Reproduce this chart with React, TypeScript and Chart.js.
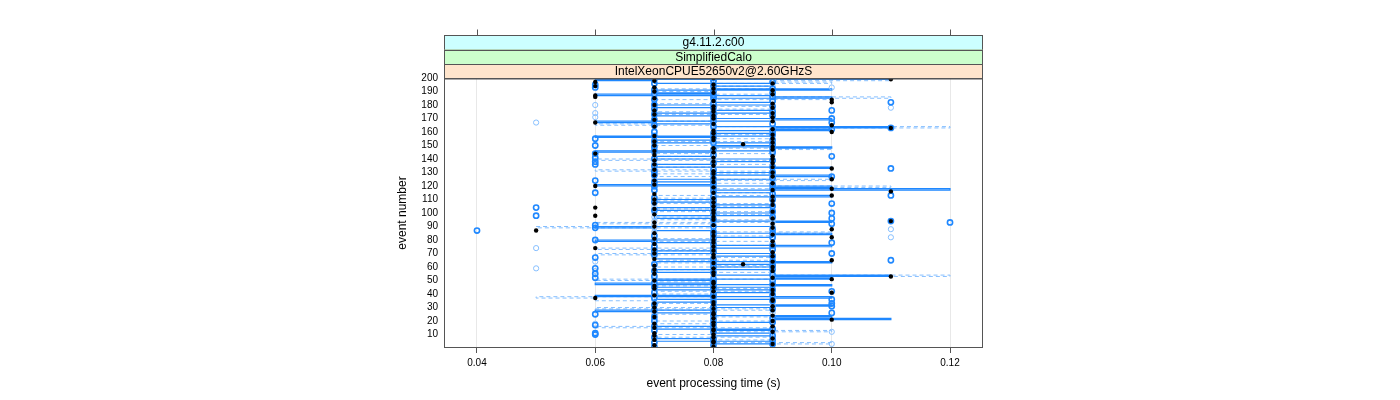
import React, { useEffect, useRef } from "react";
import { Chart, registerables } from "chart.js";

Chart.register(...registerables);

// event numbers (y categories)
const EVENT_COUNT = 200;
const EVENT_NUMBERS = Array.from({ length: EVENT_COUNT }, (_, i) => i + 1);

// event processing times, in hundredths of a second, event 1..200
const REF_TIME_CS = [
  8, 7, 9, 8, 8, 7, 9, 8, 7, 8,
  7, 9, 8, 8, 7, 9, 8, 7, 8, 9,
  10, 8, 7, 9, 8, 8, 7, 9, 8, 7,
  9, 8, 7, 8, 9, 9, 6, 8, 7, 9,
  10, 8, 9, 7, 8, 7, 9, 8, 8, 7,
  10, 9, 11, 8, 7, 8, 9, 7, 8, 9,
  7, 8.5, 8, 9, 10, 7, 8, 9, 8, 7,
  9, 8, 7, 6, 8, 9, 7, 8, 9, 8,
  7, 10, 8, 9, 7, 8, 5, 10, 9, 7,
  8, 9, 7, 11, 8, 9, 8, 6, 7, 8,
  9, 8, 7, 6, 8, 9, 7, 8, 9, 7,
  8, 9, 10, 7, 8, 11, 9, 10, 8, 6,
  7, 9, 8, 7, 10, 8, 9, 7, 8, 9,
  8, 7, 10, 9, 8, 7, 9, 8, 7, 9,
  8, 9, 7, 6, 8, 7, 9, 8, 9, 7,
  8.5, 9, 7, 8, 9, 8, 7, 9, 8, 10,
  8, 9, 11, 7, 10, 8, 6, 9, 7, 8,
  9, 8, 7, 9, 8, 7, 8, 9, 8, 7,
  9, 10, 8, 10, 7, 6, 6, 9, 8, 7,
  9, 8, 7, 6, 8, 9, 6, 7, 11, 8,
];

const RUN_A_CS = [
  7, 8, 9, 7, 8, 9, 8, 7, 9, 6,
  6, 8, 7, 9, 8, 7, 6, 8, 9, 7,
  8, 9, 7, 8, 6, 10, 8, 7, 9, 8,
  10, 7, 10, 8, 9, 10, 7, 8, 9, 8,
  7, 10, 9, 8, 7, 8, 9, 7, 8, 9,
  8, 6, 7, 9, 6, 8, 7, 9, 6, 8,
  9, 7, 8, 9, 11, 8, 6, 9, 7, 10,
  8, 7, 9, 8, 7, 9, 8, 10, 7, 6,
  8, 9, 7, 8, 9, 8, 4, 9, 6, 8,
  6, 10, 12, 11, 8, 10, 9, 5, 8, 10,
  9, 7, 8, 5, 9, 8, 10, 7, 8, 9,
  7, 8, 11, 9, 6, 8, 7, 9, 8, 7,
  9, 8, 7, 6, 8, 9, 10, 7, 8, 9,
  7, 8, 11, 9, 7, 6, 8, 6, 9, 7,
  6, 10, 8, 6, 9, 7, 8, 9, 7, 6,
  9, 8, 7, 9, 6, 8, 7, 9, 8, 7,
  9, 10, 11, 8, 7, 9, 10, 8, 7, 10,
  8, 9, 7, 8, 9, 10, 7, 8, 9, 7,
  8, 11, 9, 7, 8, 9, 8, 7, 9, 8,
  7, 9, 6, 8, 6, 7, 9, 8, 7, 8,
];

const RUN_B_CS = [
  8, 9, 10, 7, 8, 9, 7, 8, 9, 8,
  9, 10, 8, 7, 9, 8, 7, 6, 8, 9,
  7, 8, 9, 8, 7, 9, 8, 9, 7, 8,
  8, 9, 7, 9, 8, 7, 9, 8, 7, 9,
  9, 7, 8, 9, 8, 7, 8, 9, 7, 8,
  7, 9, 8, 7, 9, 8, 6, 7, 5, 9,
  8, 9, 7, 6, 8, 9, 7, 8, 9, 7,
  7, 8, 9, 5, 9, 7, 8, 9, 8, 7,
  9, 11, 8, 7, 9, 7, 8, 11, 7, 9,
  7, 8, 9, 7, 9, 8, 7, 8, 9, 7,
  8, 9, 7, 8, 7, 9, 8, 7, 9, 8,
  9, 7, 8, 8, 9, 7, 8, 9, 7, 8,
  8, 7, 9, 8, 7, 8, 9, 7, 8, 7,
  9, 8, 7, 8, 9, 8, 7, 9, 8, 6,
  7, 8, 9, 7, 8, 9, 7, 8, 7, 9,
  7, 9, 8, 7, 9, 7, 8, 8, 9, 8,
  7, 8, 9, 7, 8, 7, 5, 8, 9, 7,
  6, 8, 9, 6, 7, 8, 9, 11, 8, 6,
  7, 8, 9, 8, 7, 9, 8, 9, 7, 8,
  8, 7, 10, 9, 8, 7, 9, 8, 9, 7,
];

// step lines: event where the level changes, and new level (hundredths of a second)
const SOLID_STEP_EVENT = [
  1, 3, 5, 7, 9, 11, 13, 14, 16, 19, 21, 22, 23, 24, 26, 27, 28, 30, 31, 32,
  34, 36, 37, 38, 39, 41, 43, 45, 46, 47, 48, 50, 51, 52, 53, 54, 56, 58, 60, 62,
  63, 64, 66, 68, 70, 72, 74, 75, 76, 78, 79, 80, 82, 84, 85, 87, 89, 90, 93, 94,
  96, 98, 100, 102, 104, 106, 108, 110, 112, 113, 115, 117, 118, 119, 120, 121, 123, 125, 127, 128,
  130, 133, 134, 136, 138, 140, 142, 145, 146, 148, 149, 150, 152, 154, 156, 157, 159, 161, 162, 163,
  164, 166, 167, 168, 169, 170, 172, 174, 176, 178, 180, 182, 185, 186, 187, 188, 189, 191, 192, 194,
  196, 198, 199, 200,
];
const SOLID_STEP_CS = [
  8, 9, 7, 8, 9, 8, 9, 7, 8, 9, 11, 9, 10, 8, 7, 6, 8, 9, 10, 8,
  7, 9, 10, 6, 8, 9, 7, 9, 10, 6, 8, 7, 10, 9, 11, 8, 7, 9, 8, 9,
  10, 7, 8, 9, 7, 8, 9, 10, 8, 7, 6, 8, 9, 10, 8, 7, 6, 9, 10, 8,
  7, 9, 8, 7, 9, 8, 7, 8, 10, 9, 8, 12, 9, 10, 6, 8, 7, 9, 10, 8,
  9, 10, 7, 8, 9, 7, 8, 6, 9, 10, 8, 9, 7, 8, 6, 9, 8, 10, 9, 11,
  8, 7, 6, 9, 10, 8, 7, 9, 8, 7, 9, 8, 10, 9, 6, 8, 7, 10, 8, 9,
  7, 6, 11, 10,
];

const DASHED_STEP_EVENT = [
  1, 3, 4, 6, 8, 10, 12, 13, 15, 16, 18, 20, 23, 25, 28, 29, 30, 33, 35, 37,
  38, 40, 42, 44, 46, 49, 50, 51, 53, 54, 56, 58, 60, 61, 63, 65, 67, 69, 70, 72,
  73, 74, 76, 79, 81, 83, 85, 86, 89, 90, 92, 93, 95, 97, 99, 101, 103, 105, 107, 109,
  111, 113, 115, 118, 119, 120, 122, 124, 125, 127, 129, 131, 132, 134, 136, 139, 140, 142, 144, 147,
  148, 150, 153, 155, 158, 160, 163, 164, 165, 166, 168, 170, 173, 175, 177, 179, 181, 184, 185, 186,
  188, 190, 192, 194, 196, 197, 198, 199, 200,
];
const DASHED_STEP_CS = [
  9, 10, 8, 9, 7, 8, 10, 9, 6, 8, 7, 9, 8, 7, 9, 6, 8, 7, 6, 5,
  8, 7, 9, 8, 7, 8, 6, 9, 12, 9, 8, 7, 9, 8, 7, 9, 8, 6, 7, 8,
  6, 8, 9, 7, 8, 9, 10, 8, 5, 8, 6, 9, 7, 8, 9, 7, 8, 9, 7, 8,
  7, 9, 8, 10, 11, 9, 8, 10, 8, 7, 9, 6, 8, 7, 9, 6, 8, 7, 9, 10,
  8, 7, 9, 8, 9, 9, 12, 8, 6, 7, 8, 9, 7, 8, 9, 8, 7, 10, 11, 9,
  8, 7, 9, 8, 10, 9, 11, 8, 9,
];

const X_TICKS = [0.04, 0.06, 0.08, 0.1, 0.12];
const Y_TICKS = [10, 20, 30, 40, 50, 60, 70, 80, 90, 100, 110, 120, 130, 140, 150, 160, 170, 180, 190, 200];
const STRIP_LABELS = ["g4.11.2.c00", "SimplifiedCalo", "IntelXeonCPUE52650v2@2.60GHzS"];
const STRIP_COLORS = ["#ccffff", "#ccffcc", "#ffe5cc"];

const FONT = "'Liberation Sans', Arial, Helvetica, sans-serif";
const BLUE = "#1f88ff";
const LIGHT_BLUE = "#86bfff";
const FRAME = "#555555";

const stripPlugin = {
  id: "latticeStrips",
  afterDraw(chart: any) {
    const { ctx, chartArea } = chart;
    const xs = chart.scales.x;
    const left = Math.round(chartArea.left) + 0.5;
    const right = Math.round(chartArea.right) - 0.5;
    const top = Math.round(chartArea.top) + 0.5;
    const bottom = Math.round(chartArea.bottom) - 0.5;
    const h = 14.5;
    ctx.save();
    for (let k = 0; k < STRIP_LABELS.length; k++) {
      const y0 = top - (STRIP_LABELS.length - k) * h;
      ctx.fillStyle = STRIP_COLORS[k];
      ctx.fillRect(left, y0, right - left, h);
      ctx.strokeStyle = FRAME;
      ctx.lineWidth = 1;
      ctx.strokeRect(left, Math.round(y0) + 0.5, right - left, h);
      ctx.fillStyle = "#000";
      ctx.font = `12px ${FONT}`;
      ctx.textAlign = "center";
      ctx.textBaseline = "middle";
      ctx.fillText(STRIP_LABELS[k], (left + right) / 2, y0 + h / 2 + 0.5);
    }
    const stripTop = Math.round(top - STRIP_LABELS.length * h) + 0.5;
    ctx.strokeStyle = FRAME;
    ctx.beginPath();
    for (const v of X_TICKS) {
      const px = Math.round(xs.getPixelForValue(v)) + 0.5;
      ctx.moveTo(px, stripTop);
      ctx.lineTo(px, stripTop - 6);
    }
    ctx.stroke();
    ctx.strokeRect(left, top, right - left, bottom - top);
    ctx.restore();
  },
};

export default function App() {
  const canvasRef = useRef<HTMLCanvasElement | null>(null);

  useEffect(() => {
    document.body.style.margin = "0";
    const canvas = canvasRef.current;
    if (!canvas) return;

    const pts = (arr: number[]) => EVENT_NUMBERS.map((e, i) => ({ x: arr[i] / 100, y: e }));
    const steps = (evs: number[], cs: number[]) => evs.map((e, i) => ({ x: cs[i] / 100, y: e }));

    const chart = new Chart(canvas, {
      type: "scatter",
      data: {
        datasets: [
          {
            label: "ref",
            data: pts(REF_TIME_CS),
            pointRadius: 2.2,
            pointBackgroundColor: "#000",
            pointBorderWidth: 0,
            pointBorderColor: "#000",
            showLine: false,
            order: 1,
          } as any,
          {
            label: "runA",
            data: pts(RUN_A_CS),
            pointRadius: 2.6,
            pointBackgroundColor: "rgba(0,0,0,0)",
            pointBorderColor: BLUE,
            pointBorderWidth: 1.6,
            showLine: false,
            order: 2,
          },
          {
            label: "runB",
            data: pts(RUN_B_CS),
            pointRadius: 2.6,
            pointBackgroundColor: "rgba(0,0,0,0)",
            pointBorderColor: LIGHT_BLUE,
            pointBorderWidth: 1,
            showLine: false,
            order: 3,
          },
          {
            label: "solid",
            type: "line",
            data: steps(SOLID_STEP_EVENT, SOLID_STEP_CS),
            stepped: "after",
            borderColor: BLUE,
            borderWidth: 1.2,
            pointRadius: 0,
            fill: false,
            order: 4,
          } as any,
          {
            label: "dashed",
            type: "line",
            data: steps(DASHED_STEP_EVENT, DASHED_STEP_CS),
            stepped: "after",
            borderColor: LIGHT_BLUE,
            borderWidth: 1,
            borderDash: [4, 3],
            pointRadius: 0,
            fill: false,
            order: 5,
          } as any,
        ],
      },
      options: {
        responsive: false,
        animation: false,
        events: [],
        layout: { padding: { left: 380, top: 78, right: 417, bottom: 0 } },
        plugins: { legend: { display: false }, tooltip: { enabled: false } },
        scales: {
          x: {
            type: "linear",
            position: "bottom",
            min: 0.03442,
            max: 0.12558,
            afterBuildTicks: (s: any) => {
              s.ticks = X_TICKS.map((v) => ({ value: v }));
            },
            afterFit: (s: any) => {
              s.height = 52;
            },
            ticks: {
              font: { family: FONT, size: 10 },
              color: "#000",
              padding: 4,
              maxRotation: 0,
              autoSkip: false,
              callback: (v: any) => Number(v).toFixed(2),
            },
            grid: {
              color: "#e8e8e8",
              tickColor: FRAME,
              tickLength: 5,
              drawTicks: true,
            },
            border: { display: false },
            title: {
              display: true,
              text: "event processing time (s)",
              font: { family: FONT, size: 12 },
              color: "#000",
              padding: { top: 0, bottom: 9 },
            },
          },
          y: {
            type: "linear",
            min: 0,
            max: 200,
            afterBuildTicks: (s: any) => {
              s.ticks = Y_TICKS.map((v) => ({ value: v }));
            },
            afterFit: (s: any) => {
              s.width = 64;
            },
            ticks: {
              font: { family: FONT, size: 10 },
              color: "#000",
              padding: 6,
              autoSkip: false,
            },
            grid: { display: false, drawTicks: false },
            border: { display: false },
            title: {
              display: true,
              text: "event number",
              font: { family: FONT, size: 12 },
              color: "#000",
              padding: { top: 15, bottom: 0 },
            },
          },
        },
      },
      plugins: [stripPlugin],
    });

    return () => chart.destroy();
  }, []);

  return <canvas ref={canvasRef} width={1400} height={400} style={{ display: "block" }} />;
}
